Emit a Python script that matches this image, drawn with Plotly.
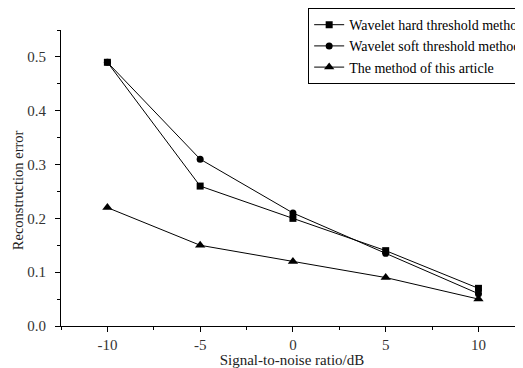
import plotly.graph_objects as go

snr = [-10, -5, 0, 5, 10]
hard = [0.49, 0.26, 0.20, 0.14, 0.07]
soft = [0.49, 0.31, 0.21, 0.135, 0.06]
article = [0.22, 0.15, 0.12, 0.09, 0.05]
names = ["Wavelet hard threshold method", "Wavelet soft threshold method", "The method of this article"]

fig = go.Figure()
for name, ys, sym, sz in [(names[0], hard, "square", 7), (names[1], soft, "circle", 7), (names[2], article, "triangle-up", 9)]:
    fig.add_trace(go.Scatter(x=snr, y=ys, name=name, mode="lines+markers",
                             line=dict(color="black", width=1),
                             marker=dict(symbol=sym, size=sz, color="black")))

font = "Liberation Serif, Times New Roman, serif"
# page body has an 8px default margin, so the figure is 8px smaller
fig.update_layout(
    width=515, height=360,
    margin=dict(l=53, r=0, t=22, b=42, autoexpand=False),
    paper_bgcolor="white", plot_bgcolor="white",
    font=dict(family=font, color="black", size=13),
    showlegend=True,
    legend=dict(x=0.535, y=1.074, xanchor="left", yanchor="top",
                bordercolor="black", borderwidth=1, bgcolor="white",
                font=dict(family=font, size=14), tracegroupgap=0,
                itemwidth=30),
)
fig.add_annotation(text="Reconstruction error", textangle=-90, xref="paper", yref="paper",
                   x=-0.093, y=0.459, xanchor="center", yanchor="middle", showarrow=False,
                   font=dict(size=14.5, color="#222222"))
fig.update_xaxes(range=[-12.5, 12.4], tickvals=snr, ticktext=[str(v) for v in snr],
                 showgrid=False, zeroline=False, showline=True, linecolor="black", linewidth=1,
                 ticks="outside", ticklen=5, tickcolor="black",
                 minor=dict(dtick=2.5, tick0=0, ticks="outside", ticklen=3, tickcolor="black"),
                 title=dict(text="Signal-to-noise ratio/dB", standoff=1, font=dict(size=15, color="#222222")),
                 tickfont=dict(color="#333333", size=15))
fig.update_yaxes(range=[0, 0.55], dtick=0.1, tickformat=".1f",
                 showgrid=False, zeroline=False, showline=True, linecolor="black", linewidth=1,
                 ticks="outside", ticklen=5, tickcolor="black", ticklabelstandoff=6,
                 minor=dict(dtick=0.05, ticks="outside", ticklen=3, tickcolor="black"),
                 tickfont=dict(color="#333333", size=15))

fig.write_html("out.html")
